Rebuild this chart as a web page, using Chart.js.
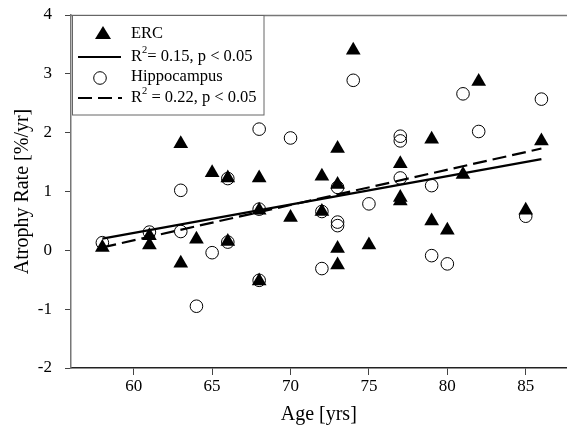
<!DOCTYPE html>
<html><head><meta charset="utf-8">
<script src="https://cdn.jsdelivr.net/npm/chart.js@4/dist/chart.umd.min.js"></script>
<style>html,body{margin:0;padding:0;background:#fff}#wrap{width:567px;height:431px;overflow:hidden}</style>
</head><body><div id="wrap"><canvas id="c" width="575" height="431"></canvas></div>
<script>
const ercAge  = [58, 61, 61, 63, 63, 64, 65, 66, 66, 68, 68, 68, 70, 72, 72, 73, 73, 73, 73, 74, 75, 77, 77, 77, 79, 79, 80, 81, 82, 85, 86];
const ercRate = [0.05, 0.25, 0.09, 1.81, -0.22, 0.19, 1.32, 1.23, 0.15, 1.23, 0.68, -0.52, 0.56, 1.26, 0.66, 1.73, 1.12, 0.03, -0.25, 3.40, 0.09, 1.47, 0.90, 0.84, 1.89, 0.50, 0.34, 1.29, 2.87, 0.68, 1.86];
const hipAge  = [58, 61, 63, 63, 64, 65, 66, 66, 68, 68, 68, 70, 72, 72, 73, 73, 73, 74, 75, 77, 77, 77, 79, 79, 80, 81, 82, 85, 86];
const hipRate = [0.13, 0.31, 1.02, 0.32, -0.95, -0.04, 1.22, 0.14, 2.06, 0.70, -0.51, 1.91, 0.66, -0.31, 1.07, 0.48, 0.42, 2.89, 0.79, 1.94, 1.86, 1.23, 1.10, -0.09, -0.23, 2.66, 2.02, 0.58, 2.57];
const ercFitAge = [58, 86];
const ercFitRate = [0.20, 1.55];
const hipFitAge = [58, 86];
const hipFitRate = [0.05, 1.73];
const xTicks = [60, 65, 70, 75, 80, 85];
const yTicks = [-2, -1, 0, 1, 2, 3, 4];
const legendLabels = ['ERC', ['R', '2', '= 0.15, p < 0.05'], 'Hippocampus', ['R', '2', ' = 0.22, p < 0.05']];

const pts = (xs, ys) => xs.map((x, i) => ({x: x, y: ys[i]}));
const serif = "'Liberation Serif', 'Times New Roman', serif";

const framePlugin = {
  id: 'frame',
  afterDraw(chart) {
    const ctx = chart.ctx, a = chart.chartArea;
    ctx.save();
    ctx.strokeStyle = '#777';
    ctx.lineWidth = 1.5;
    ctx.beginPath();
    ctx.moveTo(a.left, a.top + 0.5);
    ctx.lineTo(chart.width, a.top + 0.5);
    ctx.stroke();
    // legend box
    const bx = 72.5, by = 15.5, bw = 191.5, bh = 99.5;
    ctx.fillStyle = '#fff';
    ctx.fillRect(bx, by, bw, bh);
    ctx.strokeStyle = '#666';
    ctx.lineWidth = 1;
    ctx.strokeRect(bx, by, bw, bh);
    ctx.fillStyle = '#000';
    ctx.strokeStyle = '#000';
    // triangle
    ctx.beginPath();
    ctx.moveTo(103, 26); ctx.lineTo(111, 39); ctx.lineTo(95, 39); ctx.closePath(); ctx.fill();
    // solid line
    ctx.lineWidth = 2;
    ctx.beginPath(); ctx.moveTo(78, 57); ctx.lineTo(121, 57); ctx.stroke();
    // circle
    ctx.lineWidth = 1;
    ctx.beginPath(); ctx.arc(100, 78, 6.3, 0, Math.PI * 2); ctx.stroke();
    // dashed line
    ctx.lineWidth = 2;
    ctx.setLineDash([14, 6]);
    ctx.beginPath(); ctx.moveTo(78, 98); ctx.lineTo(122, 98); ctx.stroke();
    ctx.setLineDash([]);
    // texts
    ctx.textBaseline = 'middle';
    ctx.textAlign = 'left';
    const ys = [34, 57, 77, 98];
    legendLabels.forEach((lab, i) => {
      let x = 131;
      if (typeof lab === 'string') {
        ctx.font = '16.5px ' + serif;
        ctx.fillText(lab, x, ys[i]);
      } else {
        ctx.font = '16.5px ' + serif;
        ctx.fillText(lab[0], x, ys[i]);
        x += ctx.measureText(lab[0]).width;
        ctx.font = '10.5px ' + serif;
        ctx.fillText(lab[1], x, ys[i] - 7);
        x += ctx.measureText(lab[1]).width;
        ctx.font = '16.5px ' + serif;
        ctx.fillText(lab[2], x, ys[i]);
      }
    });
    ctx.restore();
  }
};

new Chart(document.getElementById('c'), {
  type: 'scatter',
  data: {
    datasets: [
      {label: 'ERC', data: pts(ercAge, ercRate), pointStyle: 'triangle', radius: 8.5, backgroundColor: '#000', borderColor: '#000', borderWidth: 0, order: 2},
      {label: 'Hippocampus', data: pts(hipAge, hipRate), pointStyle: 'circle', radius: 6.3, backgroundColor: 'rgba(0,0,0,0)', borderColor: '#000', borderWidth: 1, order: 1},
      {type: 'line', label: 'ERC fit', data: pts(ercFitAge, ercFitRate), borderColor: '#000', borderWidth: 2.2, pointRadius: 0, fill: false, order: 0},
      {type: 'line', label: 'Hippocampus fit', data: pts(hipFitAge, hipFitRate), borderColor: '#000', borderWidth: 2.2, borderDash: [14, 6], pointRadius: 0, fill: false, order: 0}
    ]
  },
  options: {
    responsive: false,
    animation: false,
    layout: {padding: {top: 15, right: 0, left: 0, bottom: 0}},
    plugins: {legend: {display: false}, tooltip: {enabled: false}},
    scales: {
      x: {
        type: 'linear', min: 56, max: 87.6,
        afterBuildTicks: s => { s.ticks = xTicks.map(v => ({value: v})); },
        afterFit: s => { s.height = 63; s.paddingLeft = 0; s.paddingRight = 0; },
        grid: {drawOnChartArea: false, drawTicks: true, tickLength: 7, color: '#444'},
        border: {color: '#222', width: 1.5},
        ticks: {color: '#000', font: {family: serif, size: 17}, padding: 1, maxRotation: 0},
        title: {display: true, text: 'Age [yrs]', color: '#000', font: {family: serif, size: 20}, padding: {top: 0, bottom: 4}}
      },
      y: {
        type: 'linear', min: -2, max: 4,
        afterBuildTicks: s => { s.ticks = yTicks.map(v => ({value: v})); },
        afterFit: s => { s.width = 71; s.paddingTop = 0; s.paddingBottom = 0; },
        grid: {drawOnChartArea: false, drawTicks: true, tickLength: 6, color: '#444'},
        border: {color: '#777', width: 1.5},
        ticks: {color: '#000', font: {family: serif, size: 17}, padding: 13},
        title: {display: true, text: 'Atrophy Rate [%/yr]', color: '#000', font: {family: serif, size: 20}, padding: {top: 11, bottom: 0}}
      }
    }
  },
  plugins: [framePlugin]
});
</script></body></html>
